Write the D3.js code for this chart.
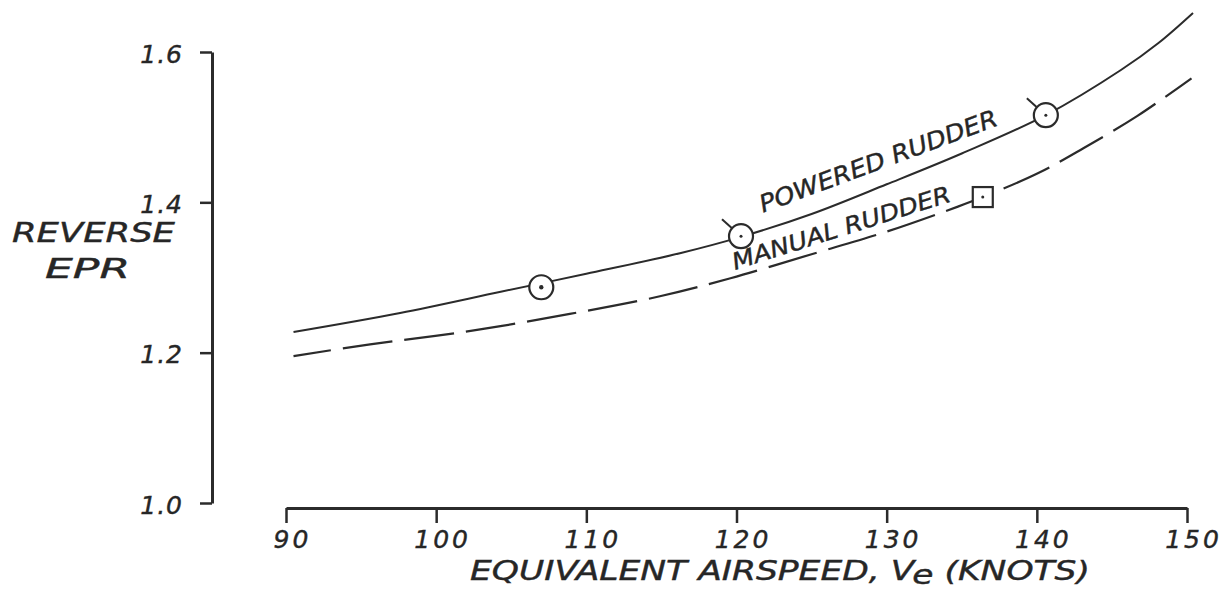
<!DOCTYPE html>
<html>
<head>
<meta charset="utf-8">
<script src="https://cdn.jsdelivr.net/npm/d3@7"></script>
<style>
  body { margin: 0; background: #fff; }
  svg text { font-family: "DejaVu Sans", sans-serif; font-style: italic; fill: #262626; stroke: #262626; stroke-width: 0.4px; }
</style>
</head>
<body>
<script>
// ticks
var speedTicks = [90, 100, 110, 120, 130, 140, 150];
var eprTicks = [1.0, 1.2, 1.4, 1.6];

// powered rudder curve (solid)
var poweredSpeed = [90.5, 97.6, 104.3, 110, 116.3, 120.3, 125, 130, 135, 140.6, 145.6, 148.1, 150.4];
var poweredEpr   = [1.2275, 1.2528, 1.281, 1.305, 1.3326, 1.354, 1.3845, 1.424, 1.465, 1.516, 1.576, 1.612, 1.652];

// manual rudder curve (dashed)
var manualSpeed = [90.5, 95.6, 102.3, 108.9, 114.9, 119.6, 125, 130, 134.7, 136.4, 140.1, 143.1, 146.7, 150.3];
var manualEpr   = [1.1955, 1.211, 1.229, 1.2515, 1.275, 1.299, 1.331, 1.361, 1.394, 1.407, 1.439, 1.472, 1.515, 1.565];

// test points
var poweredPtSpeed = [107, 120.3, 140.6];
var poweredPtEpr   = [1.287, 1.355, 1.516];
var poweredPtFlag  = [false, true, true];
var manualPtSpeed = [136.4];
var manualPtEpr   = [1.407];

var width = 1225, height = 602,
    ink = "#2b2b2b";

var x = d3.scaleLinear().domain([90, 150]).range([286, 1187]);
var y = d3.scaleLinear().domain([1.0, 1.6]).range([503, 52]);

var svg = d3.select("body").append("svg")
    .attr("width", width)
    .attr("height", height);

// y axis
var yAxis = svg.append("g")
    .attr("transform", "translate(212,0)")
    .call(d3.axisLeft(y).tickValues(eprTicks).tickFormat(d3.format(".1f"))
        .tickSize(12).tickSizeOuter(0).tickPadding(17));
yAxis.select(".domain").attr("stroke", ink).attr("stroke-width", 3);
yAxis.selectAll(".tick line").attr("stroke", ink).attr("stroke-width", 2.5);
yAxis.selectAll(".tick text")
    .attr("font-size", 25).attr("font-family", null).attr("fill", null).attr("dy", "0.4em")
    .style("letter-spacing", "1px");

// x axis
var xAxis = svg.append("g")
    .attr("transform", "translate(0,508)")
    .call(d3.axisBottom(x).tickValues(speedTicks).tickSize(15).tickSizeOuter(0));
xAxis.select(".domain").attr("stroke", ink).attr("stroke-width", 3);
xAxis.selectAll(".tick line").attr("stroke", ink).attr("stroke-width", 2.5);
xAxis.selectAll(".tick text")
    .attr("font-size", 25).attr("font-family", null).attr("fill", null)
    .attr("y", 40).attr("dy", 0).attr("dx", 6)
    .style("letter-spacing", "3px");

// curves
var line = d3.line()
    .x(function(d) { return x(d[0]); })
    .y(function(d) { return y(d[1]); })
    .curve(d3.curveCatmullRom.alpha(0.5));

svg.append("path")
    .datum(d3.zip(poweredSpeed, poweredEpr))
    .attr("d", line)
    .attr("fill", "none")
    .attr("stroke", ink)
    .attr("stroke-width", 2);

svg.append("path")
    .datum(d3.zip(manualSpeed, manualEpr))
    .attr("d", line)
    .attr("fill", "none")
    .attr("stroke", ink)
    .attr("stroke-width", 2.2)
    .attr("stroke-dasharray", "50,12")
    .attr("stroke-dashoffset", 12);

// powered points: circle with centre dot, some with a flag
var pts = svg.selectAll(".ppt")
    .data(d3.zip(poweredPtSpeed, poweredPtEpr, poweredPtFlag))
    .enter().append("g")
    .attr("class", "ppt")
    .attr("transform", function(d) { return "translate(" + x(d[0]) + "," + y(d[1]) + ")"; });
pts.append("circle")
    .attr("r", 12)
    .attr("fill", "#fff")
    .attr("stroke", ink)
    .attr("stroke-width", 2.2);
pts.append("circle")
    .attr("r", function(d, i) { return i == 0 ? 2.2 : 1.5; })
    .attr("fill", ink);
pts.filter(function(d) { return d[2]; })
    .append("line")
    .attr("x1", -9).attr("y1", -8)
    .attr("x2", -19).attr("y2", -17)
    .attr("stroke", ink)
    .attr("stroke-width", 2);

// manual point: square with centre dot
var sq = svg.selectAll(".mpt")
    .data(d3.zip(manualPtSpeed, manualPtEpr))
    .enter().append("g")
    .attr("class", "mpt")
    .attr("transform", function(d) { return "translate(" + x(d[0]) + "," + y(d[1]) + ")"; });
sq.append("rect")
    .attr("x", -10).attr("y", -10)
    .attr("width", 20).attr("height", 20)
    .attr("fill", "#fff")
    .attr("stroke", ink)
    .attr("stroke-width", 2.2);
sq.append("circle").attr("r", 1.5).attr("fill", ink);

// curve labels
svg.append("text")
    .attr("transform", "translate(" + x(121.77) + "," + y(1.386) + ") rotate(-20.4)")
    .attr("font-size", 24)
    .attr("textLength", 252)
    .attr("lengthAdjust", "spacingAndGlyphs")
    .text("POWERED RUDDER");

svg.append("text")
    .attr("transform", "translate(" + x(119.9) + "," + y(1.31) + ") rotate(-17.6)")
    .attr("font-size", 23)
    .attr("textLength", 228)
    .attr("lengthAdjust", "spacingAndGlyphs")
    .text("MANUAL RUDDER");

// axis titles
svg.append("text")
    .attr("x", 12).attr("y", 242)
    .attr("font-size", 26)
    .attr("textLength", 163)
    .attr("lengthAdjust", "spacingAndGlyphs")
    .text("REVERSE");
svg.append("text")
    .attr("x", 45).attr("y", 278)
    .attr("font-size", 26)
    .attr("textLength", 85)
    .attr("lengthAdjust", "spacingAndGlyphs")
    .text("EPR");

var xt = svg.append("text")
    .attr("x", 470).attr("y", 580)
    .attr("font-size", 26)
    .attr("textLength", 620)
    .attr("lengthAdjust", "spacingAndGlyphs");
xt.append("tspan").text("EQUIVALENT AIRSPEED, V");
xt.append("tspan").attr("dy", 4).text("e");
xt.append("tspan").attr("dy", -4).text(" (KNOTS)");
</script>
</body>
</html>
